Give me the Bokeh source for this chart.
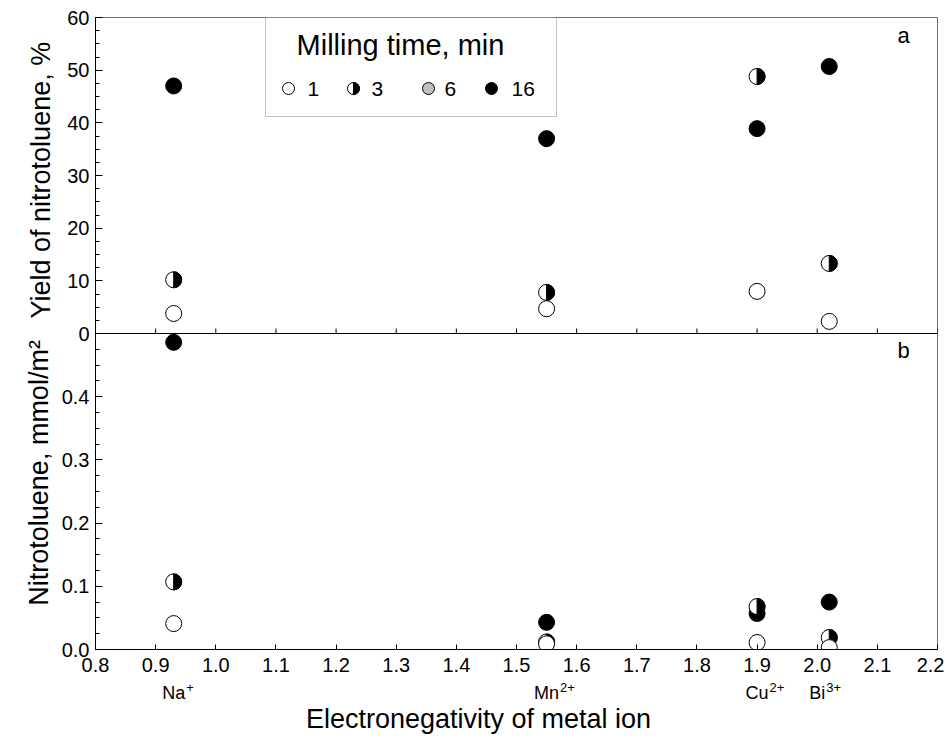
from math import pi
from bokeh.plotting import figure
from bokeh.layouts import row, column
from bokeh.models import Range1d, FixedTicker, Label, Span, BoxAnnotation
from bokeh.core.properties import value
from bokeh.embed import file_html
from bokeh.resources import INLINE

FONT = "Liberation Sans"

# ---------------- data ----------------
ion_base = ["Na", "Mn", "Cu", "Bi"]
ion_charge = ["+", "2+", "2+", "3+"]
ion_label_x = [0.93, 1.55, 1.90, 2.00]
electroneg = [0.93, 1.55, 1.90, 2.02]

# panel a: yield of nitrotoluene, %
yield_1min = [3.8, 4.7, 8.0, 2.3]
yield_3min = [10.2, 7.8, 48.8, 13.3]
yield_16min = [47.0, 37.0, 38.9, 50.7]

# panel b: nitrotoluene, mmol/m2
nitro_1min = [0.041, 0.009, 0.011, 0.003]
nitro_3min = [0.107, 0.012, 0.068, 0.019]
nitro_16min = [0.486, 0.043, 0.057, 0.075]

legend_labels = ["1", "3", "6", "16"]

x_ticks = [0.8, 0.9, 1.0, 1.1, 1.2, 1.3, 1.4, 1.5, 1.6, 1.7, 1.8, 1.9, 2.0, 2.1, 2.2]
yield_ticks = [0, 10, 20, 30, 40, 50, 60]
nitro_ticks = [0.0, 0.1, 0.2, 0.3, 0.4]

# ---------------- geometry ----------------
FW, FH = 842.0, 632.0       # frame size in pixels
TOTAL_W, TOTAL_H = 944, 734
LEFT_W = 58                 # strip holding the y titles
MAIN_H = 680                # main figure height (frame top 17, frame bottom 649, x tick labels)
BOT_H = TOTAL_H - MAIN_H    # strip holding ion labels and x title

x_rng = Range1d(0.8, 2.2)
main_rng = Range1d(0.0, 1.0)        # panel b occupies the lower half (0 .. 0.5)
yield_rng = Range1d(-60.0, 60.0)    # panel a occupies the upper half (0 .. 60)

p = figure(width=TOTAL_W - LEFT_W, height=MAIN_H, x_range=x_rng, y_range=main_rng,
           output_backend="svg", toolbar_location=None,
           min_border_left=95 - LEFT_W, min_border_right=7, min_border_top=17, min_border_bottom=31)
p.extra_y_ranges = {"yield": yield_rng}
p.grid.visible = False
p.outline_line_color = "#6e6e6e"
p.background_fill_color = "white"
p.border_fill_color = "white"


def yield_pos(v):
    return (v - yield_rng.start) / (yield_rng.end - yield_rng.start) * (main_rng.end - main_rng.start) + main_rng.start


def px_x(px):
    # pixel offset from frame left -> data x
    return x_rng.start + px / FW * (x_rng.end - x_rng.start)


def px_y(py):
    # pixel offset from frame bottom -> main data y
    return main_rng.start + py / FH * (main_rng.end - main_rng.start)


# ---------------- y axis (shared, two panels) ----------------
ticks = [float(t) for t in nitro_ticks] + [yield_pos(v) for v in yield_ticks]
overrides = {float(t): f"{t:.1f}" for t in nitro_ticks}
overrides.update({yield_pos(v): str(v) for v in yield_ticks})
minor = [i * 0.025 for i in range(21)] + [yield_pos(i * 2.5) for i in range(25)]

ya = p.yaxis[0]
ya.ticker = FixedTicker(ticks=ticks, minor_ticks=minor)
ya.major_label_overrides = overrides
ya.major_tick_in = 7
ya.major_tick_out = 0
ya.minor_tick_in = 4
ya.minor_tick_out = 0
ya.major_label_standoff = 6
ya.major_label_text_font = FONT
ya.major_label_text_font_size = "20px"
ya.major_label_text_color = "black"
ya.axis_line_color = "black"
ya.major_tick_line_color = "black"
ya.minor_tick_line_color = "black"

# ---------------- x axis ----------------
xa = p.xaxis[0]
xa.ticker = FixedTicker(ticks=x_ticks, minor_ticks=[])
xa.major_label_overrides = {t: f"{t:.1f}" for t in x_ticks}
xa.major_tick_in = 5
xa.major_tick_out = 0
xa.minor_tick_in = 0
xa.minor_tick_out = 0
xa.major_label_standoff = 8
xa.major_label_text_font = FONT
xa.major_label_text_font_size = "20px"
xa.major_label_text_color = "black"
xa.axis_line_color = "black"

# ---------------- panel separator (x axis of panel a) ----------------
p.add_layout(Span(location=yield_pos(0), dimension="width", line_color="black", line_width=1))
p.segment(x0=x_ticks, y0=[yield_pos(0)] * len(x_ticks), x1=x_ticks,
          y1=[yield_pos(0) + px_y(5)] * len(x_ticks), line_color="black", line_width=1)

# ---------------- data points ----------------
MS = 16
# panel a
p.scatter(electroneg, yield_16min, size=MS, marker="circle", fill_color="black",
          line_color="black", y_range_name="yield")
p.scatter(electroneg, yield_3min, size=MS, marker="circle", fill_color="white",
          line_color="black", y_range_name="yield")
p.wedge(electroneg, yield_3min, radius=8, radius_units="screen", start_angle=-pi / 2,
        end_angle=pi / 2, fill_color="black", line_color="black", y_range_name="yield")
p.scatter(electroneg, yield_1min, size=MS, marker="circle", fill_color="white",
          line_color="black", y_range_name="yield")
# panel b
p.scatter(electroneg, nitro_16min, size=MS, marker="circle", fill_color="black", line_color="black")
p.scatter(electroneg, nitro_3min, size=MS, marker="circle", fill_color="white", line_color="black")
p.wedge(electroneg, nitro_3min, radius=8, radius_units="screen", start_angle=-pi / 2,
        end_angle=pi / 2, fill_color="black", line_color="black")
p.scatter(electroneg, nitro_1min, size=MS, marker="circle", fill_color="white", line_color="black")

# ---------------- legend (drawn by hand) ----------------
p.add_layout(BoxAnnotation(left=px_x(170), right=px_x(461), top=px_y(632), bottom=px_y(533),
                           fill_color="white", fill_alpha=1.0, line_color="#4b1f4b", line_width=1,
                           level="underlay"))
p.add_layout(Label(x=px_x(305), y=px_y(605), text="Milling time, min", text_align="center",
                   text_baseline="middle", text_font=FONT, text_font_size="29px", text_color="black"))
leg_marker_px = [193, 258, 333, 396]
leg_label_px = [212, 276, 349, 416]
leg_fill = ["white", "white", "#bfbfbf", "black"]
leg_y = px_y(561)
for i, lab in enumerate(legend_labels):
    p.scatter([px_x(leg_marker_px[i])], [leg_y], size=12, marker="circle",
              fill_color=leg_fill[i], line_color="black")
    if lab == "3":
        p.wedge([px_x(leg_marker_px[i])], [leg_y], radius=6, radius_units="screen",
                start_angle=-pi / 2, end_angle=pi / 2, fill_color="black", line_color="black")
    p.add_layout(Label(x=px_x(leg_label_px[i]), y=leg_y, text=lab, text_align="left",
                       text_baseline="middle", text_font=FONT, text_font_size="21px",
                       text_color="black"))

# ---------------- panel letters ----------------
p.add_layout(Label(x=px_x(808), y=px_y(614), text="a", text_align="center", text_baseline="middle",
                   text_font=FONT, text_font_size="22px", text_color="black"))
p.add_layout(Label(x=px_x(808), y=px_y(299), text="b", text_align="center", text_baseline="middle",
                   text_font=FONT, text_font_size="22px", text_color="black"))

# ---------------- left strip: y titles ----------------
left = figure(width=LEFT_W, height=MAIN_H, x_range=Range1d(0, LEFT_W), y_range=Range1d(0, MAIN_H),
              output_backend="svg", toolbar_location=None, x_axis_location=None, y_axis_location=None,
              min_border=0)
left.grid.visible = False
left.outline_line_color = None
left.add_layout(Label(x=40, y=MAIN_H - 175, text="Yield of nitrotoluene, %", angle=pi / 2,
                      text_align="center", text_baseline="middle", text_font=FONT,
                      text_font_size="27px", text_color="black"))
left.add_layout(Label(x=38, y=MAIN_H - 490, text="Nitrotoluene, mmol/m\u00b2", angle=pi / 2,
                      text_align="center", text_baseline="middle", text_font=FONT,
                      text_font_size="27px", text_color="black"))

# ---------------- bottom strip: ion labels, x title ----------------
bot = figure(width=TOTAL_W, height=BOT_H, x_range=x_rng, y_range=Range1d(0, BOT_H),
             output_backend="svg", toolbar_location=None, x_axis_location=None, y_axis_location=None,
             min_border_left=95, min_border_right=7, min_border_top=0, min_border_bottom=0)
bot.grid.visible = False
bot.outline_line_color = None
base_half_w = [11.5, 12.5, 11.5, 8.0]   # half widths of the element symbols (px)
bot.text(x=ion_label_x, y=[BOT_H - 12] * 4, text=ion_base, text_align="center",
         text_baseline="middle", text_font=value(FONT), text_font_size="18px", text_color="black")
bot.text(x=ion_label_x, y=[BOT_H - 7] * 4, text=ion_charge, x_offset=[w + 1 for w in base_half_w],
         text_align="left", text_baseline="middle", text_font=value(FONT), text_font_size="13px",
         text_color="black")
bot.add_layout(Label(x=px_x(383), y=BOT_H - 38, text="Electronegativity of metal ion",
                     text_align="center", text_baseline="middle", text_font=FONT,
                     text_font_size="27px", text_color="black"))

layout = column(row(left, p, spacing=0), bot, spacing=0)
open("out.html", "w").write(file_html(layout, INLINE))
